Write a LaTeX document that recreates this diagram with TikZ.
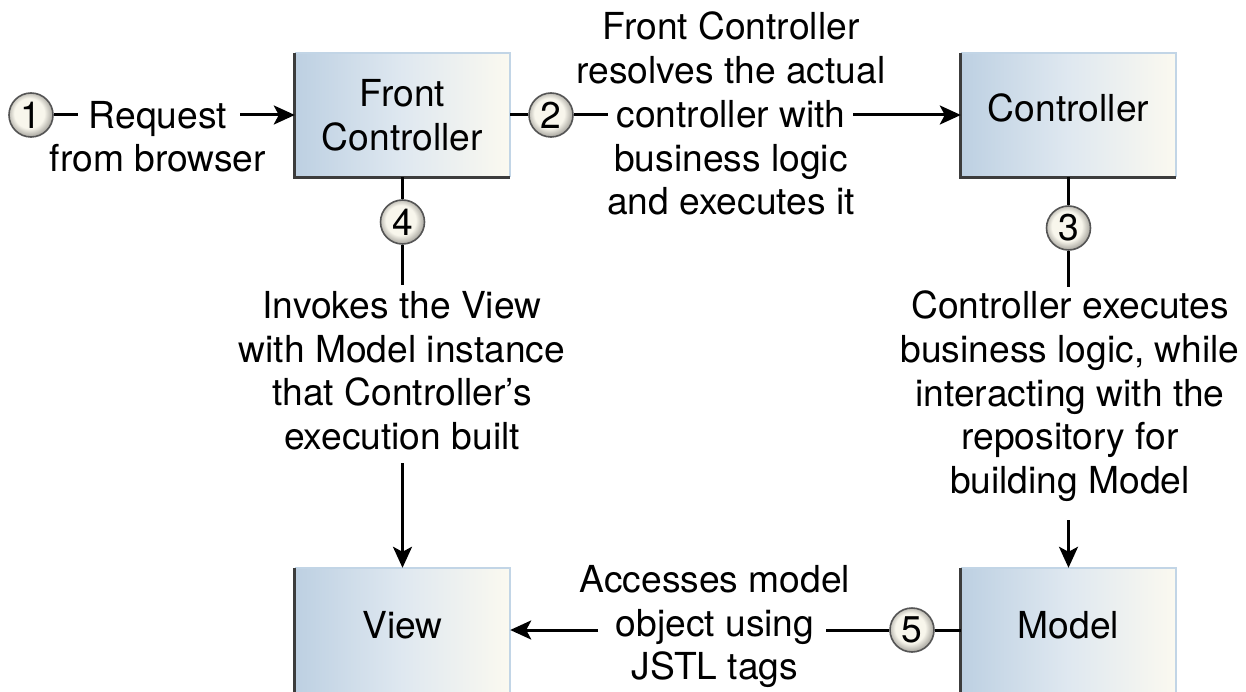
\documentclass[tikz,border=0pt]{standalone}
\usepackage{fontspec}
\setmainfont{TeX Gyre Heros}
\usetikzlibrary{arrows.meta}
\definecolor{boxblue}{HTML}{BDD0E2}
\definecolor{boxmid}{HTML}{DFE8F0}
\definecolor{boxcream}{HTML}{FBF9F0}
\definecolor{edgelight}{HTML}{C2D5E6}
\definecolor{edgedark}{HTML}{3C3C3C}
\definecolor{ballin}{HTML}{F8F6EC}
\definecolor{ballout}{HTML}{A9A7A0}
\definecolor{ballline}{HTML}{555555}
\pgfdeclareradialshading{badgeshade}{\pgfpoint{-3bp}{3bp}}{%
  color(0bp)=(ballin); color(17bp)=(ballin); color(26bp)=(ballout); color(50bp)=(ballout)}
\tikzset{
  txt/.style={font=\fontsize{37.2}{43.7}\selectfont},
  comp/.style={txt, align=center, minimum width=215pt, minimum height=124pt, inner sep=0pt,
    left color=boxblue, right color=boxcream, middle color=boxmid},
  badge/.style={txt, circle, minimum size=44pt, inner sep=0pt, draw=ballline, line width=1.6pt,
    shading=badgeshade},
  lbl/.style={txt, align=center, inner sep=0pt},
  conn/.style={line width=3pt, black},
  arr/.style={conn, -{Stealth[length=21pt,width=19pt,inset=5pt]}},
  lightedge/.style={edgelight, line width=1.5pt},
  darkedge/.style={edgedark, line width=2.8pt},
}
\begin{document}
\begin{tikzpicture}[x=1pt,y=-1pt]
\useasboundingbox (0,0) rectangle (1246,692);
% boxes
\node[comp] (fc) at (402.5,115) {Front\\Controller};
\node[comp, text depth=14pt] (ctrl) at (1068.5,115) {Controller};
\node[comp, text depth=10pt] (view) at (402.5,630) {View};
\node[comp, text depth=10pt] (model) at (1068.5,630) {Model};
\foreach \n in {fc,ctrl,view,model}{
  \draw[lightedge] (\n.north west) -- (\n.north east) -- (\n.south east);
}
\draw[darkedge] (fc.north west) -- (fc.south west) -- (fc.south east);
\draw[darkedge] (ctrl.north west) -- (ctrl.south west) -- (ctrl.south east);
\draw[darkedge] (view.north west) -- (view.south west);
\draw[darkedge] (model.north west) -- (model.south west);
% numbered badges
\node[badge] (c1) at (31,115) {1};
\node[badge] (c2) at (551,115) {2};
\node[badge] (c4) at (402.5,222) {4};
\node[badge] (c3) at (1068.5,228) {3};
\node[badge] (c5) at (912,630) {5};
% labels
\node[lbl] (l1) at (158,136.7) {Request\\from browser};
\node[lbl] (l2) at (731,113.7) {Front Controller\\resolves the actual\\controller with\\business logic\\and executes it};
\node[lbl] (l4) at (402,370.6) {Invokes the View\\with Model instance\\that Controller’s\\execution built};
\node[lbl] (l3) at (1070,396.3) {Controller executes\\business logic, while\\interacting with the\\repository for\\building Model};
\node[lbl] (l5) at (715,626.5) {Accesses model\\object using\\JSTL tags};
% connector ends
\coordinate (l1a) at (78,115);  \coordinate (l1b) at (240,115);
\coordinate (l2a) at (608,115); \coordinate (l2b) at (853,115);
\coordinate (l4a) at (402.5,285); \coordinate (l4b) at (402.5,463);
\coordinate (l3a) at (1068.5,287); \coordinate (l3b) at (1068.5,520);
\coordinate (l5a) at (826,630); \coordinate (l5b) at (598,630);
% connectors
\draw[conn] (c1) -- (l1a);
\draw[arr] (l1b) -- (fc.west);
\draw[conn] (fc.east) -- (c2);
\draw[conn] (c2) -- (l2a);
\draw[arr] (l2b) -- (ctrl.west);
\draw[conn] (fc.south) -- (c4);
\draw[conn] (c4) -- (l4a);
\draw[arr] (l4b) -- (view.north);
\draw[conn] (ctrl.south) -- (c3);
\draw[conn] (c3) -- (l3a);
\draw[arr] (l3b) -- (model.north);
\draw[conn] (model.west) -- (c5);
\draw[conn] (c5) -- (l5a);
\draw[arr] (l5b) -- (view.east);
\end{tikzpicture}
\end{document}
